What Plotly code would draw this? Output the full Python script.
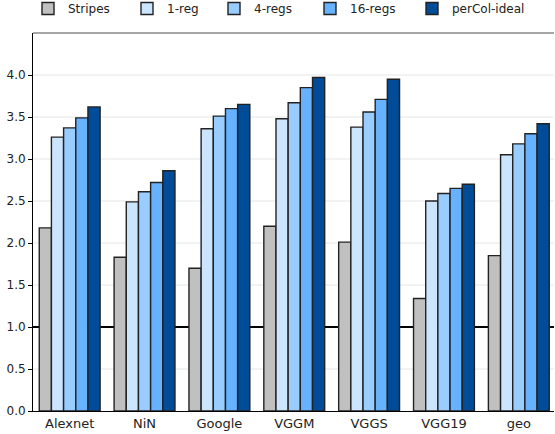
import plotly.graph_objects as go

categories = ["Alexnet", "NiN", "Google", "VGGM", "VGGS", "VGG19", "geo"]
series_names = ["Stripes", "1-reg", "4-regs", "16-regs", "perCol-ideal"]
stripes = [2.18, 1.83, 1.70, 2.20, 2.01, 1.34, 1.85]
reg1 = [3.26, 2.49, 3.36, 3.48, 3.38, 2.50, 3.05]
regs4 = [3.37, 2.61, 3.51, 3.67, 3.56, 2.59, 3.18]
regs16 = [3.49, 2.72, 3.60, 3.85, 3.71, 2.65, 3.30]
percol = [3.62, 2.86, 3.65, 3.97, 3.95, 2.70, 3.42]
baseline = 1.0
y_ticks = [0.0, 0.5, 1.0, 1.5, 2.0, 2.5, 3.0, 3.5, 4.0]

colors = ["#c0c0c0", "#cce5ff", "#99ccff", "#66b2ff", "#004c99"]
values = [stripes, reg1, regs4, regs16, percol]
legend_text_px = [67, 166, 253, 349, 451]

W, H = 555, 434
ML, MR, MT, MB = 33, 1, 33, 23
plot_h = H - MT - MB

fig = go.Figure()
legends = {}
for i, (name, vals, col) in enumerate(zip(series_names, values, colors)):
    lg = "legend" if i == 0 else f"legend{i + 1}"
    fig.add_trace(go.Bar(
        x=categories, y=vals, name=name, legend=lg,
        marker=dict(color=col, line=dict(color="#222222", width=1.4)),
    ))
    legends[lg] = dict(
        orientation="h", xref="container", x=(legend_text_px[i] - 39) / W, xanchor="left",
        yref="paper", y=1 + (MT + 6) / plot_h, yanchor="top",
        font=dict(family="DejaVu Sans", size=12, color="#222222"),
        bgcolor="rgba(0,0,0,0)", itemwidth=30,
    )

shapes = [
    dict(type="line", xref="paper", yref="y", x0=0, x1=1, y0=t, y1=t,
         line=dict(color="#e6e6e6", width=1), layer="below")
    for t in y_ticks if t not in (0.0, baseline)
]
shapes.append(dict(type="line", xref="paper", yref="y", x0=0, x1=1, y0=baseline, y1=baseline,
                   line=dict(color="black", width=2.2), layer="below"))
shapes.append(dict(type="line", xref="paper", yref="paper", x0=0, x1=1, y0=1, y1=1,
                   line=dict(color="#888888", width=1.5)))

fig.update_layout(
    width=W, height=H,
    margin=dict(l=ML, r=MR, t=MT, b=MB, autoexpand=False),
    plot_bgcolor="white", paper_bgcolor="white",
    barmode="group", bargap=0.187, bargroupgap=0,
    font=dict(family="DejaVu Sans", size=12, color="#222222"),
    showlegend=True,
    xaxis=dict(range=[-0.49, 6.47], showline=True, linecolor="black", linewidth=1,
               ticks="", showgrid=False, tickfont=dict(size=13, family="DejaVu Sans")),
    yaxis=dict(range=[0, 4.5], tickvals=y_ticks, ticktext=[f"{v:.1f}" for v in y_ticks],
               showline=True, linecolor="black", linewidth=1,
               ticks="outside", ticklen=4, tickcolor="black",
               showgrid=False, zeroline=False,
               tickfont=dict(size=12, family="DejaVu Sans")),
    shapes=shapes,
    **legends,
)
fig.write_html("out.html", config={"displayModeBar": False},
               post_script="document.body.style.margin='0';document.body.style.padding='0';")
